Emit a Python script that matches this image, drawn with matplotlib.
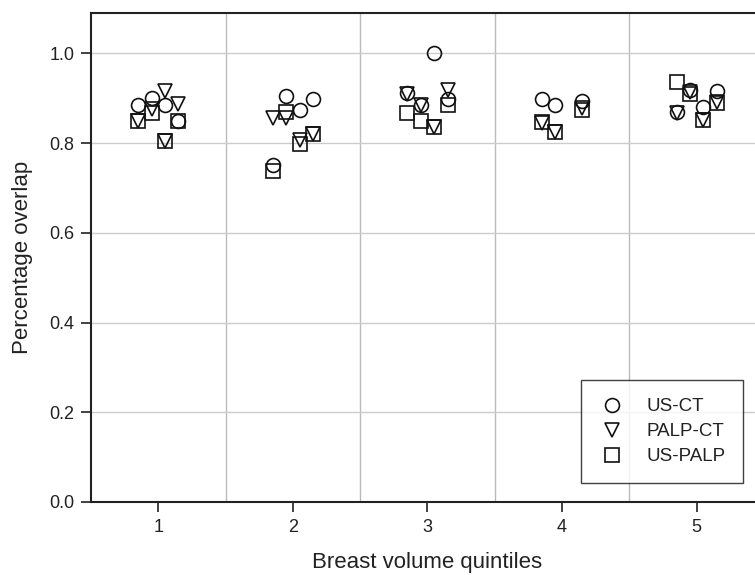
import matplotlib
matplotlib.use('agg')
import matplotlib.pyplot as plt
from matplotlib.ticker import MultipleLocator, FixedLocator

plt.rcParams['font.family'] = ['Liberation Sans', 'DejaVu Sans']

# x = quintile with a small offset per subject, y = fraction of overlap
us_ct_x = [0.85, 0.95, 1.05, 1.15, 1.85, 1.95, 2.05, 2.15, 2.85, 2.95, 3.05, 3.15,
           3.85, 3.95, 4.15, 4.85, 4.95, 5.05, 5.15]
us_ct_y = [0.885, 0.900, 0.885, 0.849, 0.751, 0.905, 0.873, 0.899, 0.912, 0.886, 1.000, 0.899,
           0.899, 0.886, 0.894, 0.869, 0.919, 0.880, 0.916]

palp_ct_x = [0.85, 0.95, 1.05, 1.05, 1.15, 1.85, 1.95, 2.05, 2.15, 2.85, 2.95, 3.05, 3.15,
             3.85, 3.95, 4.15, 4.85, 4.95, 5.05, 5.15]
palp_ct_y = [0.850, 0.876, 0.916, 0.805, 0.888, 0.855, 0.857, 0.806, 0.821, 0.909, 0.884, 0.836, 0.919,
             0.845, 0.825, 0.879, 0.866, 0.914, 0.852, 0.891]

us_palp_x = [0.85, 0.95, 1.05, 1.15, 1.85, 1.95, 2.05, 2.15, 2.85, 2.95, 3.05, 3.15,
             3.85, 3.95, 4.15, 4.85, 4.95, 5.05, 5.15]
us_palp_y = [0.849, 0.866, 0.805, 0.849, 0.738, 0.869, 0.797, 0.820, 0.866, 0.849, 0.837, 0.884,
             0.846, 0.825, 0.873, 0.936, 0.910, 0.852, 0.889]

quintiles = [1, 2, 3, 4, 5]
separators = [1.5, 2.5, 3.5, 4.5]

fig = plt.figure(figsize=(7.55, 5.75), dpi=100)
# right edge of the axes runs past the figure, like the cropped original
ax = fig.add_axes([91/755, 73/575, 673/755, 489/575])

mk = dict(linestyle='none', markerfacecolor='none', markeredgecolor='#111111',
          markeredgewidth=1.2, markersize=10)
ax.plot(us_ct_x, us_ct_y, marker='o', label='US-CT', **mk)
ax.plot(palp_ct_x, palp_ct_y, marker='v', label='PALP-CT', **mk)
ax.plot(us_palp_x, us_palp_y, marker='s', label='US-PALP', **mk)

ax.set_xlim(0.5, 5.5)
ax.set_ylim(0, 1.09)
ax.set_xticks(quintiles)
ax.xaxis.set_minor_locator(FixedLocator(separators))
ax.yaxis.set_major_locator(MultipleLocator(0.2))
ax.yaxis.set_major_formatter(matplotlib.ticker.FormatStrFormatter('%.1f'))

ax.grid(True, axis='y', which='major', color='#cccccc', lw=1)
ax.grid(True, axis='x', which='minor', color='#bbbbbb', lw=1)
ax.set_axisbelow(True)

ax.tick_params(axis='both', which='major', direction='out', length=7, width=1.2,
               labelsize=13, colors='#222222', pad=5)
ax.tick_params(axis='x', which='minor', length=0)
for s in ax.spines.values():
    s.set_linewidth(1.5)
    s.set_color('#222222')

ax.set_xlabel('Breast volume quintiles', fontsize=16, color='#222222', labelpad=12)
ax.set_ylabel('Percentage overlap', fontsize=16, color='#222222', labelpad=12)

leg = ax.legend(loc='lower right', bbox_to_anchor=(0.9688, 0.0389), borderaxespad=0,
                fontsize=13.5, frameon=True, fancybox=False, edgecolor='#111111',
                labelspacing=0.42, handletextpad=1.1, borderpad=0.95, handlelength=1.4)
leg.get_frame().set_linewidth(1.0)
for t in leg.get_texts():
    t.set_color('#222222')

fig.savefig('out.png', dpi=100)
